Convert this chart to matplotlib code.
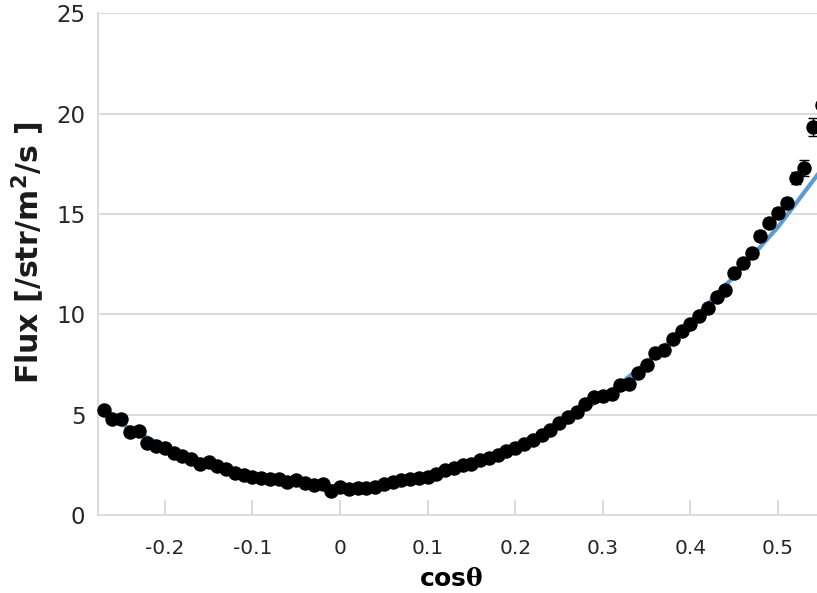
import matplotlib
matplotlib.use("Agg")
import matplotlib.pyplot as plt
import numpy as np

# ---- data ----
cos_theta = [-0.27, -0.26, -0.25, -0.24, -0.23, -0.22, -0.21, -0.20, -0.19, -0.18,
             -0.17, -0.16, -0.15, -0.14, -0.13, -0.12, -0.11, -0.10, -0.09, -0.08,
             -0.07, -0.06, -0.05, -0.04, -0.03, -0.02, -0.01, 0.00, 0.01, 0.02,
             0.03, 0.04, 0.05, 0.06, 0.07, 0.08, 0.09, 0.10, 0.11, 0.12,
             0.13, 0.14, 0.15, 0.16, 0.17, 0.18, 0.19, 0.20, 0.21, 0.22,
             0.23, 0.24, 0.25, 0.26, 0.27, 0.28, 0.29, 0.30, 0.31, 0.32,
             0.33, 0.34, 0.35, 0.36, 0.37, 0.38, 0.39, 0.40, 0.41, 0.42,
             0.43, 0.44, 0.45, 0.46, 0.47, 0.48, 0.49, 0.50, 0.51, 0.52,
             0.53, 0.54, 0.55]
flux = [5.25, 4.80, 4.77, 4.13, 4.17, 3.58, 3.43, 3.35, 3.10, 2.92,
        2.80, 2.53, 2.63, 2.43, 2.30, 2.08, 2.00, 1.90, 1.83, 1.77,
        1.77, 1.63, 1.72, 1.60, 1.50, 1.55, 1.22, 1.38, 1.30, 1.37,
        1.35, 1.38, 1.55, 1.63, 1.72, 1.77, 1.83, 1.90, 2.05, 2.25,
        2.35, 2.47, 2.55, 2.72, 2.85, 2.97, 3.18, 3.35, 3.55, 3.75,
        3.97, 4.22, 4.58, 4.88, 5.13, 5.51, 5.88, 5.95, 6.05, 6.46,
        6.51, 7.08, 7.46, 8.05, 8.21, 8.75, 9.18, 9.50, 9.91, 10.30,
        10.87, 11.21, 12.04, 12.54, 13.04, 13.91, 14.57, 15.04, 15.54, 16.79,
        17.29, 19.32, 20.45]
flux_err = [0.08, 0.08, 0.08, 0.08, 0.08, 0.08, 0.08, 0.08, 0.08, 0.08,
            0.08, 0.08, 0.08, 0.08, 0.08, 0.08, 0.08, 0.08, 0.08, 0.08,
            0.08, 0.08, 0.08, 0.08, 0.08, 0.08, 0.08, 0.08, 0.08, 0.08,
            0.08, 0.08, 0.08, 0.08, 0.08, 0.08, 0.08, 0.08, 0.08, 0.08,
            0.08, 0.08, 0.08, 0.08, 0.08, 0.08, 0.08, 0.08, 0.10, 0.10,
            0.10, 0.10, 0.10, 0.10, 0.10, 0.12, 0.12, 0.12, 0.12, 0.12,
            0.12, 0.14, 0.14, 0.14, 0.15, 0.15, 0.16, 0.16, 0.17, 0.18,
            0.18, 0.19, 0.20, 0.21, 0.22, 0.23, 0.24, 0.25, 0.26, 0.30,
            0.38, 0.45, 0.48]

model_cos = [-0.27, -0.25, -0.20, -0.15, -0.10, -0.05, 0.00, 0.05, 0.10, 0.15,
             0.20, 0.25, 0.30, 0.35, 0.40, 0.45, 0.50, 0.545]
model_flux = [5.15, 4.55, 3.40, 2.60, 2.00, 1.60, 1.40, 1.50, 1.90, 2.50,
              3.35, 4.45, 5.85, 7.60, 9.60, 11.90, 14.35, 16.95]

x_ticks = [-0.2, -0.1, 0.0, 0.1, 0.2, 0.3, 0.4, 0.5]
x_tick_labels = ["-0.2", "-0.1", "0", "0.1", "0.2", "0.3", "0.4", "0.5"]
y_ticks = [0, 5, 10, 15, 20, 25]

# ---- figure ----
fig = plt.figure(figsize=(8.17, 5.93), dpi=100)
ax = fig.add_axes([98 / 817, 1 - 515 / 593, 1 - 98 / 817, (515 - 13.3) / 593])

grid_c = "#D9D9D9"
for y in y_ticks[1:]:
    ax.axhline(y, color=grid_c, lw=1.3, zorder=0)

ax.plot(model_cos, model_flux, color="#5B9BD5", lw=3, zorder=2, clip_on=False)
ax.errorbar(cos_theta, flux, yerr=flux_err, fmt="o", color="black", ms=9.4,
            ecolor="black", elinewidth=1, capsize=3.5, capthick=1, zorder=3,
            clip_on=False)

ax.set_xlim(-0.2763, 0.5445)
ax.set_ylim(0, 25)

ax.set_xticks(x_ticks)
ax.set_xticklabels(x_tick_labels)
ax.set_yticks(y_ticks)

for s in ["top", "right"]:
    ax.spines[s].set_visible(False)
for s in ["left", "bottom"]:
    ax.spines[s].set_color(grid_c)
    ax.spines[s].set_linewidth(1.3)

ax.tick_params(axis="x", direction="in", length=11, width=1.3, color=grid_c,
               pad=17, labelsize=14.5, labelcolor="#262626")
ax.tick_params(axis="y", length=0, pad=9, labelsize=16.5, labelcolor="#262626")

fig.text(0.5 * (420 + 483) / 817, 1 - 579 / 593, r"$\mathbf{cos}$" + "θ",
         ha="center", va="center", fontsize=18, fontweight="bold",
         family=["DejaVu Serif"])
fig.text(28 / 817, 1 - 253 / 593, r"Flux [/str/m$^{\mathbf{2}}$/s ]",
         rotation=90, ha="center", va="center", fontsize=21.5, fontweight="bold",
         color="#1a1a1a")

fig.savefig("out.png", dpi=100)
